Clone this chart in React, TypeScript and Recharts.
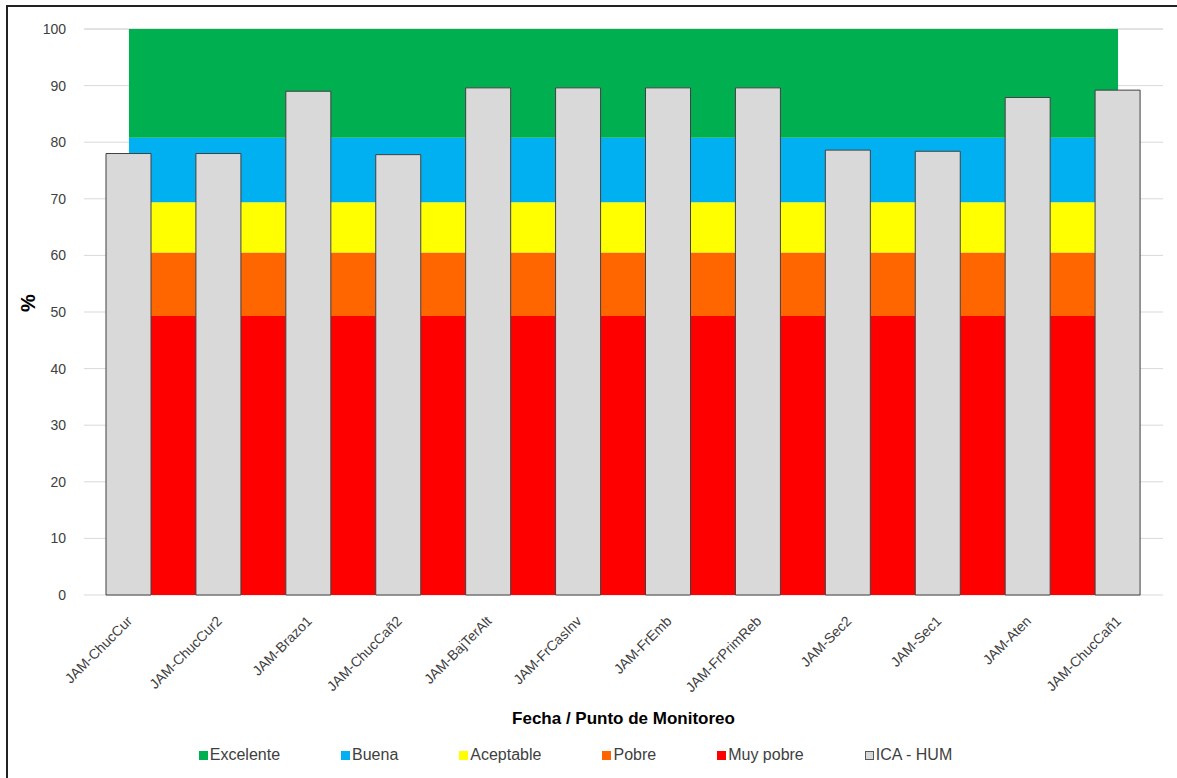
import { ComposedChart, Area, Bar, XAxis, YAxis, CartesianGrid, Legend } from 'recharts'

const puntos = [
  'JAM-ChucCur',
  'JAM-ChucCur2',
  'JAM-Brazo1',
  'JAM-ChucCañ2',
  'JAM-BajTerAlt',
  'JAM-FrCasInv',
  'JAM-FrEmb',
  'JAM-FrPrimReb',
  'JAM-Sec2',
  'JAM-Sec1',
  'JAM-Aten',
  'JAM-ChucCañ1',
]

const icaHum = [78.0, 78.0, 89.0, 77.8, 89.6, 89.6, 89.6, 89.6, 78.6, 78.4, 87.9, 89.2]

// bandas de calidad (espesor de cada franja apilada)
const muyPobre = [49.3, 49.3, 49.3, 49.3, 49.3, 49.3, 49.3, 49.3, 49.3, 49.3, 49.3, 49.3]
const pobre = [11.2, 11.2, 11.2, 11.2, 11.2, 11.2, 11.2, 11.2, 11.2, 11.2, 11.2, 11.2]
const aceptable = [8.9, 8.9, 8.9, 8.9, 8.9, 8.9, 8.9, 8.9, 8.9, 8.9, 8.9, 8.9]
const buena = [11.4, 11.4, 11.4, 11.4, 11.4, 11.4, 11.4, 11.4, 11.4, 11.4, 11.4, 11.4]
const excelente = [19.2, 19.2, 19.2, 19.2, 19.2, 19.2, 19.2, 19.2, 19.2, 19.2, 19.2, 19.2]

const yTicks = [0, 10, 20, 30, 40, 50, 60, 70, 80, 90, 100]

const data = puntos.map((p, i) => ({
  name: p,
  muyPobre: muyPobre[i],
  pobre: pobre[i],
  aceptable: aceptable[i],
  buena: buena[i],
  excelente: excelente[i],
  ica: icaHum[i],
}))

const legendItems = [
  { label: 'Excelente', color: '#00b050' },
  { label: 'Buena', color: '#00b0f0' },
  { label: 'Aceptable', color: '#ffff00' },
  { label: 'Pobre', color: '#ff6600' },
  { label: 'Muy pobre', color: '#ff0000' },
  { label: 'ICA - HUM', color: '#d9d9d9', border: true },
]

const font = 'Arial, "Liberation Sans", Helvetica, sans-serif'

const XTick = ({ x, y, payload }: any) => (
  <text
    x={x + 4}
    y={y + 19}
    transform={`rotate(-45, ${x + 4}, ${y + 19})`}
    textAnchor="end"
    fontSize={14}
    fill="#404040"
    fontFamily={font}
  >
    {payload.value}
  </text>
)

const CustomLegend = () => (
  <div style={{
    display: 'flex',
    justifyContent: 'center',
    gap: '61px',
    paddingTop: '8px',
    paddingRight: '46px',
    fontFamily: font,
    fontSize: '16px',
    color: '#404040'
  }}>
    {legendItems.map((it) => (
      <span key={it.label} style={{ display: 'flex', alignItems: 'center', gap: '2px' }}>
        <span style={{
          width: '9px',
          height: '9px',
          background: it.color,
          border: it.border ? '1px solid #595959' : 'none',
          boxSizing: 'border-box',
          display: 'inline-block'
        }} />
        {it.label}
      </span>
    ))}
  </div>
)

export default function App() {
  return (
    <div style={{ position: 'absolute', left: 0, top: 0, width: '1177px', height: '778px', background: '#fff', overflow: 'hidden' }}>
      <div style={{
        position: 'absolute',
        left: '6px',
        top: '5px',
        width: '1200px',
        height: '800px',
        borderTop: '2px solid #222',
        borderLeft: '2px solid #222'
      }} />
      <div style={{ position: 'absolute', left: 0, top: 0 }}>
        <ComposedChart
          width={1177}
          height={778}
          data={data}
          margin={{ top: 29, right: 14, left: 34, bottom: 0 }}
          barCategoryGap={0}
        >
          <CartesianGrid stroke="#d9d9d9" vertical={false} />
          <XAxis
            dataKey="name"
            height={143}
            tick={<XTick />}
            tickLine={false}
            axisLine={false}
            interval={0}
            label={{
              value: 'Fecha / Punto de Monitoreo',
              position: 'insideBottom',
              offset: 14,
              fontSize: 17,
              fontWeight: 700,
              fill: '#000',
              fontFamily: font
            }}
          />
          <YAxis
            width={50}
            domain={[0, 100]}
            ticks={yTicks}
            tickLine={false}
            axisLine={false}
            tick={{ fontSize: 14, fill: '#404040', fontFamily: font }}
            tickMargin={12}
            label={{
              value: '%',
              angle: -90,
              position: 'insideLeft',
              offset: -6,
              fontSize: 20,
              fontWeight: 700,
              fill: '#000',
              fontFamily: font
            }}
          />
          <Legend verticalAlign="bottom" height={40} content={<CustomLegend />} />
          <Area type="linear" dataKey="muyPobre" stackId="b" fill="#ff0000" stroke="none" fillOpacity={1} isAnimationActive={false} />
          <Area type="linear" dataKey="pobre" stackId="b" fill="#ff6600" stroke="none" fillOpacity={1} isAnimationActive={false} />
          <Area type="linear" dataKey="aceptable" stackId="b" fill="#ffff00" stroke="none" fillOpacity={1} isAnimationActive={false} />
          <Area type="linear" dataKey="buena" stackId="b" fill="#00b0f0" stroke="none" fillOpacity={1} isAnimationActive={false} />
          <Area type="linear" dataKey="excelente" stackId="b" fill="#00b050" stroke="none" fillOpacity={1} isAnimationActive={false} />
          <Bar dataKey="ica" barSize={45} fill="#d9d9d9" stroke="#404040" strokeWidth={1} isAnimationActive={false} />
        </ComposedChart>
      </div>
    </div>
  )
}
